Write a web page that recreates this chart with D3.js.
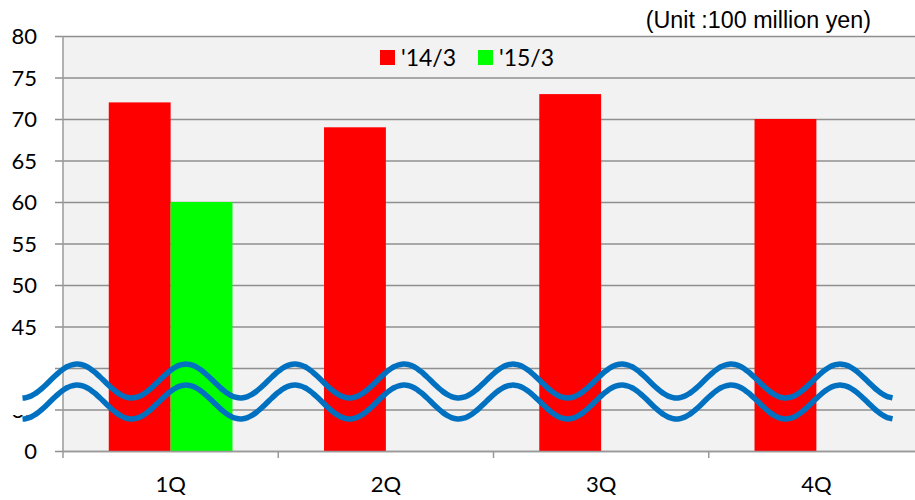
<!DOCTYPE html>
<html>
<head>
<meta charset="utf-8">
<script src="https://cdn.jsdelivr.net/npm/d3@7"></script>
<style>
  body { margin: 0; background: #fff; }
  svg { display: block; }
</style>
</head>
<body>
<svg id="chart" width="915" height="500"></svg>
<script>
// Quarterly sales, 100 million yen
const quarters = ["1Q", "2Q", "3Q", "4Q"];
const seriesNames = ["'14/3", "'15/3"];
const fy2014 = [72, 69, 73, 70];
const fy2015 = [60, null, null, null];
const seriesColors = ["#ff0000", "#00ff00"];
// Axis is broken below 40: the lowest gridline reads 0
const yTicks = [30, 35, 40, 45, 50, 55, 60, 65, 70, 75, 80];
const yTickLabels = ["0", "35", "40", "45", "50", "55", "60", "65", "70", "75", "80"];
const unitNote = "(Unit :100 million yen)";

(function () {
  const svg = d3.select("#chart");
  const font = "Lato, 'Open Sans', sans-serif";

  const plotL = 63, plotR = 924, plotT = 36, plotB = 451;

  const x0 = d3.scaleBand().domain(quarters).range([plotL, plotR]).paddingInner(0).paddingOuter(0);
  const x1 = d3.scaleBand().domain(seriesNames).range([0, x0.bandwidth()]).paddingInner(0).paddingOuter(0.74);
  const y = d3.scaleLinear().domain([30, 80]).range([plotB, plotT]);

  // plot background
  svg.append("rect")
    .attr("x", plotL).attr("y", plotT)
    .attr("width", plotR - plotL).attr("height", plotB - plotT)
    .attr("fill", "#f2f2f2");

  // gridlines + y axis labels
  const yAxis = d3.axisLeft(y).tickValues(yTicks)
    .tickSize(0)
    .tickFormat((d, i) => yTickLabels[i]);
  const yg = svg.append("g").attr("transform", `translate(${plotL},0)`).call(yAxis);
  yg.select(".domain").remove();
  yg.selectAll(".tick line")
    .attr("stroke", "#8f8f8f").attr("stroke-width", 1.5)
    .attr("x1", -8).attr("x2", plotR - plotL);
  yg.selectAll(".tick text")
    .attr("x", -26).attr("dy", "0.36em")
    .attr("font-family", font).attr("font-size", 22).attr("fill", "#000");

  // left axis line
  svg.append("line")
    .attr("x1", plotL).attr("x2", plotL).attr("y1", plotT).attr("y2", plotB + 7)
    .attr("stroke", "#9a9a9a").attr("stroke-width", 1.5);

  // bars
  const rows = quarters.map((q, i) => ({ q, vals: [fy2014[i], fy2015[i]] }));
  const groups = svg.append("g").selectAll("g").data(rows).join("g")
    .attr("transform", d => `translate(${x0(d.q)},0)`);
  groups.selectAll("rect")
    .data(d => d.vals.map((v, j) => ({ v, name: seriesNames[j], color: seriesColors[j] })).filter(e => e.v != null))
    .join("rect")
    .attr("x", d => x1(d.name))
    .attr("width", x1.bandwidth())
    .attr("y", d => y(d.v))
    .attr("height", d => y(30) - y(d.v))
    .attr("fill", d => d.color);

  // x axis
  const xAxis = d3.axisBottom(x0).tickSize(0);
  const xg = svg.append("g").attr("transform", `translate(0,${plotB})`).call(xAxis);
  xg.select(".domain").attr("stroke", "#9a9a9a").attr("stroke-width", 1.5);
  xg.selectAll(".tick text")
    .attr("y", 41).attr("dy", "0")
    .attr("font-family", font).attr("font-size", 22).attr("fill", "#000");
  // category boundary ticks
  svg.append("g").selectAll("line").data(quarters.slice(1)).join("line")
    .attr("x1", d => x0(d)).attr("x2", d => x0(d))
    .attr("y1", plotB).attr("y2", plotB + 7)
    .attr("stroke", "#9a9a9a").attr("stroke-width", 1.5);

  // cover the labels inside the break
  svg.append("rect")
    .attr("x", 0).attr("y", 361).attr("width", 55).attr("height", 54)
    .attr("fill", "#fff");

  // axis-break waves
  const wave = d3.line().curve(d3.curveBasis);
  const period = 109, amp = 17, startX = 22.5, cycles = 8;
  function wavePoints(cy) {
    const pts = [];
    for (let t = 0; t <= cycles * period; t += 3) {
      pts.push([startX + t, cy + amp * Math.cos(2 * Math.PI * t / period)]);
    }
    return pts;
  }
  [381, 402].forEach(cy => {
    svg.append("path")
      .attr("d", wave(wavePoints(cy)))
      .attr("fill", "none")
      .attr("stroke", "#0070c0")
      .attr("stroke-width", 5.5)
      .attr("stroke-linecap", "butt");
  });

  // legend
  const legend = svg.append("g").selectAll("g").data(seriesNames).join("g")
    .attr("transform", (d, i) => `translate(${380 + i * 98},0)`);
  legend.append("rect")
    .attr("x", 0).attr("y", 50).attr("width", 15).attr("height", 15)
    .attr("fill", (d, i) => seriesColors[i]);
  legend.append("text")
    .attr("x", 21).attr("y", 66)
    .attr("font-family", font).attr("font-size", 23).attr("fill", "#000")
    .text(d => d);

  // unit note
  svg.append("text")
    .attr("x", 871).attr("y", 28).attr("text-anchor", "end")
    .attr("font-family", "'Liberation Sans', Arial, sans-serif").attr("font-size", 23.3).attr("fill", "#000")
    .text(unitNote);
})();
</script>
</body>
</html>
